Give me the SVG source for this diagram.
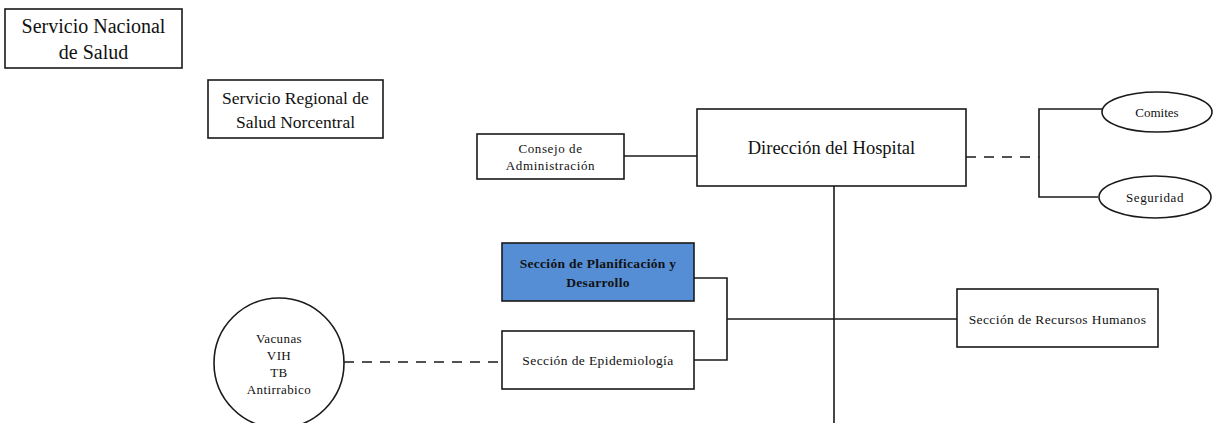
<svg xmlns="http://www.w3.org/2000/svg" width="1213" height="423" viewBox="0 0 1213 423">
<style>
.box{fill:#fff;stroke:#1a1a1a;stroke-width:1.6}
.blue{fill:#558ed5;stroke:#1a1a1a;stroke-width:1.6}
.ln{fill:none;stroke:#1a1a1a;stroke-width:1.6}
.dash{fill:none;stroke:#1a1a1a;stroke-width:1.6;stroke-dasharray:10 8}
text{font-family:"Liberation Serif","Times New Roman",serif;fill:#111;text-anchor:middle;dominant-baseline:central}
.big{font-size:20px}
.mid{font-size:17.5px}
.sm{font-size:13px;letter-spacing:0.6px}
.b{font-size:13.5px;font-weight:bold;letter-spacing:0.3px}
</style>
<rect width="1213" height="423" fill="#fff"/>
<g id="connectors">
<line class="ln" x1="624" y1="156" x2="697" y2="156"/>
<line class="dash" x1="966" y1="157" x2="1039" y2="157"/>
<polyline class="ln" points="1102,109 1039,109 1039,197 1098,197"/>
<line class="ln" x1="834" y1="186" x2="834" y2="423"/>
<polyline class="ln" points="694,278 727,278 727,360 694,360"/>
<line class="ln" x1="727" y1="319" x2="957" y2="319"/>
<line class="dash" x1="344" y1="362" x2="502" y2="362"/>
</g>
<g id="servicio-nacional">
<rect class="box" x="5" y="9" width="177" height="59"/>
<text class="big" x="93.5" y="26">Servicio Nacional</text>
<text class="big" x="93.5" y="52">de Salud</text>
</g>
<g id="servicio-regional">
<rect class="box" x="208" y="80" width="175" height="58"/>
<text class="mid" x="295.5" y="98">Servicio Regional de</text>
<text class="mid" x="295.5" y="122">Salud Norcentral</text>
</g>
<g id="consejo">
<rect class="box" x="477" y="134" width="147" height="45"/>
<text class="sm" x="550.5" y="148">Consejo de</text>
<text class="sm" x="550.5" y="165">Administración</text>
</g>
<g id="direccion">
<rect class="box" x="697" y="109" width="269" height="77"/>
<text class="big" x="831.5" y="148" style="font-size:18.5px">Dirección del Hospital</text>
</g>
<g id="comites">
<ellipse class="box" cx="1157" cy="112" rx="55" ry="20"/>
<text class="sm" x="1157" y="112" style="letter-spacing:0">Comites</text>
</g>
<g id="seguridad">
<ellipse class="box" cx="1155" cy="197" rx="56" ry="21"/>
<text class="sm" x="1155" y="197">Seguridad</text>
</g>
<g id="planificacion">
<rect class="blue" x="502" y="243" width="192" height="58"/>
<text class="b" x="598" y="263">Sección de Planificación y</text>
<text class="b" x="598" y="282">Desarrollo</text>
</g>
<g id="epidemiologia">
<rect class="box" x="502" y="331" width="192" height="58"/>
<text class="sm" x="598" y="360" style="font-size:13.5px;letter-spacing:0.4px">Sección de Epidemiología</text>
</g>
<g id="recursos-humanos">
<rect class="box" x="957" y="289" width="201" height="58"/>
<text class="sm" x="1057.5" y="319" style="font-size:13.5px;letter-spacing:0.4px">Sección de Recursos Humanos</text>
</g>
<g id="programas">
<circle class="box" cx="279" cy="363" r="65"/>
<text class="sm" x="279" y="338" style="letter-spacing:0.4px">Vacunas</text>
<text class="sm" x="279" y="355" style="letter-spacing:0.4px">VIH</text>
<text class="sm" x="279" y="372" style="letter-spacing:0.4px">TB</text>
<text class="sm" x="279" y="389" style="letter-spacing:0.4px">Antirrabico</text>
</g>
</svg>
